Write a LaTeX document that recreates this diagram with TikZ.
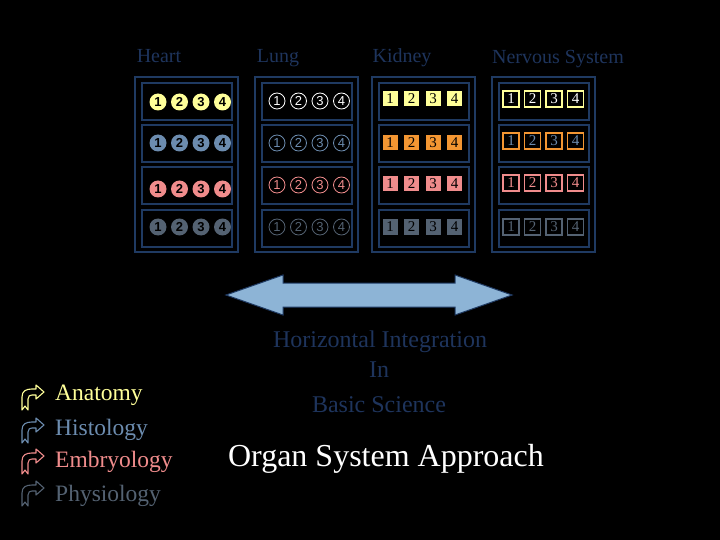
\documentclass[tikz,border=0pt]{standalone}
\usepackage{fontspec}
\setmainfont{Liberation Serif}
\setsansfont{Liberation Sans}
\usepackage{tikz}
\usetikzlibrary{positioning}
\definecolor{labelblue}{RGB}{30,52,92}
\definecolor{boxblue}{RGB}{31,58,98}
\definecolor{yellowc}{RGB}{255,255,153}
\definecolor{bluec}{RGB}{108,140,175}
\definecolor{pinkc}{RGB}{240,140,140}
\definecolor{grayc}{RGB}{84,98,114}
\definecolor{orangec}{RGB}{243,150,50}
\definecolor{arrowfill}{RGB}{141,180,214}
\tikzstyle{outerbox} = [rectangle, draw=boxblue, line width=2pt, minimum width=103, minimum height=175]
\tikzstyle{rowbox} = [rectangle, draw=boxblue, line width=2pt, minimum width=90, minimum height=37]
\tikzstyle{heading} = [anchor=base, text=labelblue, font=\fontsize{20}{22}\selectfont]
\tikzstyle{heartnum} = [circle, inner sep=0pt, minimum size=17, text=black, font=\sffamily\bfseries\fontsize{13}{13}\selectfont]
\tikzstyle{lungnum} = [circle, inner sep=0pt, minimum size=16, line width=0.8pt, font=\sffamily\fontsize{13}{13}\selectfont]
\tikzstyle{kidneynum} = [rectangle, inner sep=0pt, minimum size=15, text=black, font=\fontsize{15}{15}\selectfont]
\tikzstyle{nervenum} = [rectangle, inner sep=0pt, minimum size=16, line width=1.5pt, font=\fontsize{15}{15}\selectfont]
\tikzstyle{subject} = [anchor=base west, inner sep=0pt, font=\fontsize{23.5}{25}\selectfont]
\tikzstyle{caption} = [anchor=base, text=labelblue, font=\fontsize{24}{26}\selectfont]
\tikzset{bulletarrow/.pic={
  \draw[line width=1.1pt, line join=round] (0,25) -- (0,12) .. controls (0,6) and (4,4) .. (10,4) -- (14,4) -- (14,0) -- (22,7) -- (14,14) -- (14,10) -- (10,10) .. controls (8,10) and (6,11) .. (6,14) -- (6,25) -- (3,21) -- cycle;
}}

\begin{document}
\begin{tikzpicture}[x=1pt, y=-1pt]
\fill[black] (0,0) rectangle (720,540);
\useasboundingbox (0,0) rectangle (720,540);

% organ columns
\foreach \col/\cx in {heart/186.5, lung/306, kidney/423.5, nerve/543.5} {
  \node[outerbox] (\col) at (\cx,164.5) {};
  \foreach \r/\ry in {1/101.5, 2/144, 3/186, 4/228.5}
    \node[rowbox] (\col\r) at (\cx+0.5,\ry) {};
}
\node[heading] (heartlabel) at (159,63) {Heart};
\node[heading] (lunglabel) at (278,63) {Lung};
\node[heading] (kidneylabel) at (402,63) {Kidney};
\node[heading] (nervelabel) at (558,64) {Nervous System};

% numbers
\foreach \r/\ry/\c in {1/102/yellowc, 2/143/bluec, 3/189/pinkc, 4/227/grayc}
  \foreach \n in {1,...,4}
    \node[heartnum, fill=\c] (heart\r-\n) at (136.5+21.5*\n,\ry) {\n};
\foreach \r/\ry/\c in {1/101/white, 2/143/bluec, 3/185/pinkc, 4/227/grayc}
  \foreach \n in {1,...,4}
    \node[lungnum, draw=\c, text=\c] (lung\r-\n) at (255.5+21.5*\n,\ry) {\n};
\foreach \r/\ry/\c in {1/99/yellowc, 2/143/orangec, 3/184/pinkc, 4/227/grayc}
  \foreach \n in {1,...,4}
    \node[kidneynum, fill=\c] (kidney\r-\n) at (368.5+21.5*\n,\ry) {\n};
\foreach \r/\ry/\c/\t in {1/99/yellowc/white, 2/141/orangec/bluec, 3/183/pinkc/pinkc, 4/227/grayc/grayc}
  \foreach \n in {1,...,4}
    \node[nervenum, draw=\c, text=\t] (nerve\r-\n) at (489.5+21.5*\n,\ry) {\n};

% integration arrow
\draw[boxblue, fill=arrowfill, line width=1pt] (226,295) -- (283,275) -- (283,283) -- (455,283) -- (455,275) -- (512,295) -- (455,315) -- (455,307) -- (283,307) -- (283,315) -- cycle;
\node[caption] (horiz) at (380,347) {Horizontal Integration};
\node[caption] (in) at (379,377) {In};
\node[caption] (basic) at (379,412) {Basic Science};
\node[anchor=base, text=white, font=\fontsize{32}{34}\selectfont] (approach) at (386,466) {Organ System Approach};

% subjects
\node[subject, text=yellowc] (anatomy) at (55,400) {Anatomy};
\node[subject, text=bluec] (histology) at (55,435) {Histology};
\node[subject, text=pinkc] (embryology) at (55,467) {Embryology};
\node[subject, text=grayc] (physiology) at (55,501) {Physiology};
\pic[color=yellowc] at (22,385) {bulletarrow};
\pic[color=bluec] at (22,418) {bulletarrow};
\pic[color=pinkc] at (22,449) {bulletarrow};
\pic[color=grayc] at (22,481) {bulletarrow};
\end{tikzpicture}
\end{document}
